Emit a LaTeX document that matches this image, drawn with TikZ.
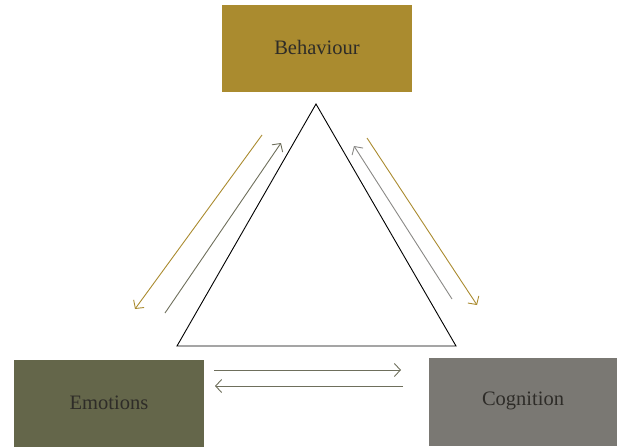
\documentclass[tikz,border=0pt]{standalone}
\usepackage{fontspec}
\setmainfont{Liberation Serif}
\usetikzlibrary{arrows.meta}
\definecolor{behavgold}{HTML}{AA8B2F}
\definecolor{emoolive}{HTML}{64664A}
\definecolor{cogngrey}{HTML}{7A7873}
\definecolor{arrowolive}{HTML}{6E6F5C}
\definecolor{arrowgrey}{HTML}{8A8986}
\definecolor{labeltext}{HTML}{2E2C28}
\tikzset{
  box/.style={inner sep=0pt, text=labeltext, font=\fontsize{20.5}{24}\selectfont},
  link/.style={line width=0.9pt, -{Straight Barb[length=6pt,width=13pt]}},
}
\begin{document}
\begin{tikzpicture}[x=1pt,y=-1pt]
    \useasboundingbox (0,0) rectangle (617,447);
    %%% boxes
    \fill[behavgold] (222,5) rectangle (412,92);
    \node[box] (behav) at (317,47) {Behaviour};
    \fill[emoolive] (14,360) rectangle (204,447);
    \node[box] (emo) at (109,403) {Emotions};
    \fill[cogngrey] (429,358) rectangle (617,446);
    \node[box] (cogn) at (523,401) {Cognition};
    %%% triangle
    \draw[line width=0.9pt, line join=miter] (316,104) -- (456,346) -- (177,346) -- cycle;
    %%% arrow ends
    \coordinate (bl1) at (262,135); \coordinate (el1) at (135,309);
    \coordinate (el2) at (165,313); \coordinate (bl2) at (281,143);
    \coordinate (cr1) at (452,299); \coordinate (br1) at (354,146);
    \coordinate (br2) at (367,138); \coordinate (cr2) at (477,305);
    \coordinate (eb1) at (214,370); \coordinate (cb1) at (401,370);
    \coordinate (cb2) at (403,386); \coordinate (eb2) at (215,386);
    %%% arrows
    \draw[link, behavgold] (bl1) -- (el1);
    \draw[link, arrowolive] (el2) -- (bl2);
    \draw[link, arrowgrey] (cr1) -- (br1);
    \draw[link, behavgold] (br2) -- (cr2);
    \draw[link, arrowolive] (eb1) -- (cb1);
    \draw[link, arrowolive] (cb2) -- (eb2);
  \end{tikzpicture}
\end{document}
